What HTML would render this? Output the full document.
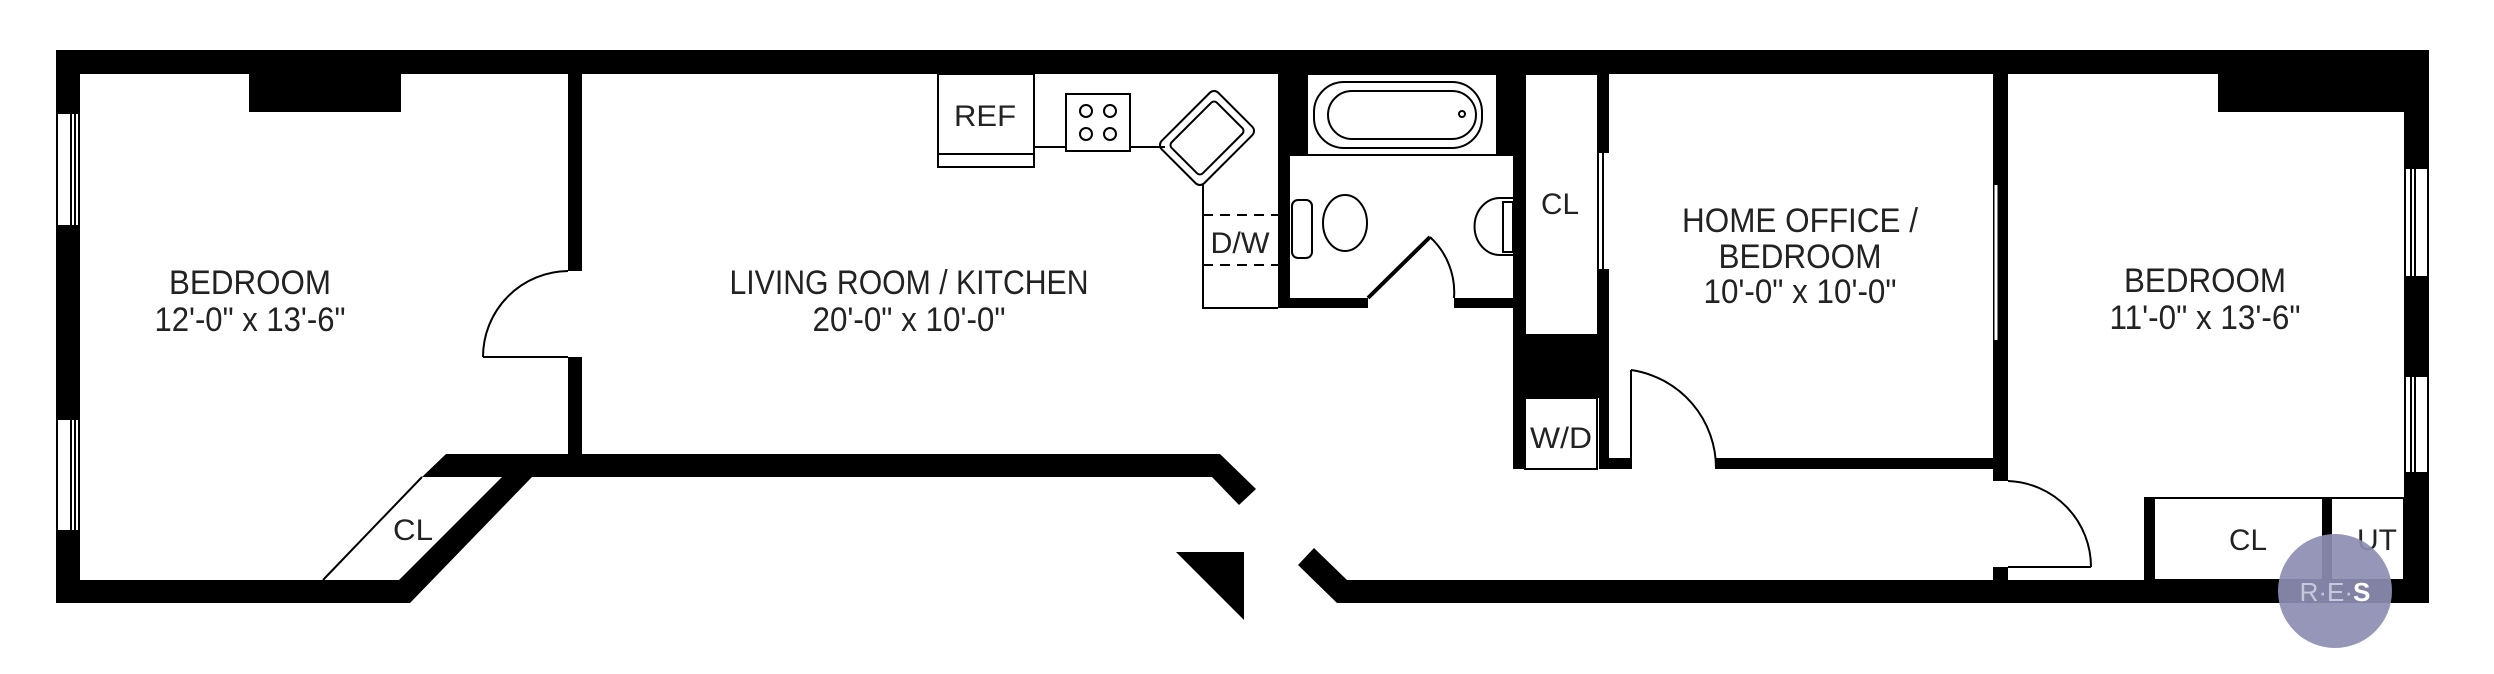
<!DOCTYPE html>
<html><head><meta charset="utf-8"><style>
html,body{margin:0;padding:0;background:#fff;}
svg{display:block}
text{font-family:"Liberation Sans",sans-serif;fill:#222;text-anchor:middle}
</style></head><body>
<svg width="2494" height="674" viewBox="0 0 2494 674" xmlns="http://www.w3.org/2000/svg">
<rect width="2494" height="674" fill="#fff"/>
<g fill="#000">
<rect x="56" y="50" width="2373" height="24"/>
<rect x="56" y="50" width="24" height="553"/>
<rect x="2404" y="50" width="25" height="553"/>
<polygon points="56,580 399,580 502,477 422,477 446,454 1220,454 1256,489 1239,505 1212,477 532,477 410,603 56,603"/>
<polygon points="1298,565 1314,548 1347,580 2429,580 2429,603 1337,603"/>
<polygon points="1176,552 1244,552 1244,620"/>
<rect x="249" y="73" width="152" height="39"/>
<rect x="2218" y="73" width="186" height="39"/>
<rect x="568" y="73" width="14" height="198"/>
<rect x="568" y="357" width="14" height="97"/>
<rect x="1278" y="73" width="12" height="235"/>
<rect x="1290" y="73" width="17" height="82"/>
<rect x="1497" y="73" width="28" height="82"/>
<rect x="1513" y="73" width="12" height="396"/>
<rect x="1278" y="298" width="90" height="10"/>
<rect x="1454" y="298" width="59" height="10"/>
<rect x="1598" y="73" width="11" height="80"/>
<rect x="1599" y="269" width="10" height="200"/>
<rect x="1515" y="335" width="84" height="63"/>
<rect x="1609" y="458" width="22" height="11"/>
<rect x="1716" y="458" width="277" height="11"/>
<rect x="1993" y="73" width="15" height="408"/>
<rect x="1993" y="567" width="15" height="13"/>
<rect x="2145" y="498" width="10" height="82"/>
<rect x="2322" y="498" width="10" height="82"/>
</g>
<g fill="none" stroke="#000" stroke-width="2">
<line x1="1996" y1="185" x2="1996" y2="340" stroke="#fff" stroke-width="3"/>
<rect x="2145" y="498" width="259" height="82"/>
<g fill="#fff">
<rect x="57" y="113" width="22" height="113"/>
<rect x="57" y="419" width="22" height="112"/>
<rect x="2405" y="168" width="23" height="109"/>
<rect x="2405" y="376" width="23" height="97"/>
</g>
<line x1="71" y1="113" x2="71" y2="226"/><line x1="75" y1="113" x2="75" y2="226"/>
<line x1="71" y1="419" x2="71" y2="531"/><line x1="75" y1="419" x2="75" y2="531"/>
<line x1="2411" y1="168" x2="2411" y2="277"/><line x1="2415" y1="168" x2="2415" y2="277"/>
<line x1="2411" y1="376" x2="2411" y2="473"/><line x1="2415" y1="376" x2="2415" y2="473"/>
<line x1="483" y1="357" x2="568" y2="357"/>
<path d="M568,271 A86,86 0 0 0 483,357"/>
<line x1="1631" y1="370" x2="1631" y2="469"/>
<path d="M1631,370 A99,99 0 0 1 1716,469"/>
<line x1="2008" y1="567" x2="2091" y2="567"/>
<path d="M2008,481 A86,86 0 0 1 2091,567"/>
<line x1="1368" y1="298" x2="1430" y2="237" stroke-width="4"/>
<path d="M1430,237 A75,75 0 0 1 1454,298"/>
<line x1="422" y1="477" x2="323" y2="580"/>
<rect x="938" y="74" width="96" height="93"/>
<line x1="938" y1="154" x2="1034" y2="154"/>
<rect x="1066" y="94" width="64" height="57"/>
<circle cx="1086" cy="111" r="6"/><circle cx="1110" cy="111" r="6"/>
<circle cx="1086" cy="134" r="6"/><circle cx="1110" cy="134" r="6"/>
<line x1="1034" y1="147" x2="1066" y2="147"/>
<line x1="1130" y1="147" x2="1165" y2="147"/>
<g transform="translate(1207,138) rotate(45)">
<rect x="-30" y="-40" width="60" height="80" rx="6"/>
<rect x="-22" y="-32" width="44" height="64" rx="4"/>
</g>
<polyline points="1203,185 1203,308 1278,308"/>
<line x1="1203" y1="215" x2="1278" y2="215" stroke-dasharray="10,7"/>
<line x1="1203" y1="265" x2="1278" y2="265" stroke-dasharray="10,7"/>
<line x1="1290" y1="155" x2="1513" y2="155"/>
<rect x="1307" y="74" width="190" height="81"/>
<rect x="1314" y="82" width="168" height="66" rx="30"/>
<rect x="1328" y="91" width="148" height="48" rx="24"/>
<circle cx="1462" cy="114" r="3"/>
<ellipse cx="1345" cy="223" rx="22" ry="28"/>
<rect x="1292" y="200" width="20" height="58" rx="6"/>
<path d="M1513,198 L1500,198 A25,28 0 0 0 1500,255 L1513,255"/>
<rect x="1503" y="202" width="10" height="50"/>
<rect x="1525" y="74" width="73" height="261"/>
<line x1="1603" y1="153" x2="1603" y2="269"/>
<rect x="1525" y="398" width="72" height="71"/>
</g>
<g font-size="34" lengthAdjust="spacingAndGlyphs">
<text x="250" y="294" textLength="162" lengthAdjust="spacingAndGlyphs">BEDROOM</text>
<text x="250" y="331" textLength="191" lengthAdjust="spacingAndGlyphs">12'-0" x 13'-6"</text>
<text x="909" y="294" textLength="359" lengthAdjust="spacingAndGlyphs">LIVING ROOM / KITCHEN</text>
<text x="909" y="331" textLength="193" lengthAdjust="spacingAndGlyphs">20'-0" x 10'-0"</text>
<text x="1800" y="232" textLength="236" lengthAdjust="spacingAndGlyphs">HOME OFFICE /</text>
<text x="1800" y="268" textLength="163" lengthAdjust="spacingAndGlyphs">BEDROOM</text>
<text x="1800" y="303" textLength="193" lengthAdjust="spacingAndGlyphs">10'-0" x 10'-0"</text>
<text x="2205" y="292" textLength="162" lengthAdjust="spacingAndGlyphs">BEDROOM</text>
<text x="2205" y="329" textLength="191" lengthAdjust="spacingAndGlyphs">11'-0" x 13'-6"</text>
</g>
<g font-size="30">
<text x="985" y="126" textLength="62" lengthAdjust="spacingAndGlyphs">REF</text>
<text x="1560" y="214" textLength="38" lengthAdjust="spacingAndGlyphs">CL</text>
<text x="1240" y="253" textLength="59" lengthAdjust="spacingAndGlyphs">D/W</text>
<text x="1561" y="448" textLength="62" lengthAdjust="spacingAndGlyphs">W/D</text>
<text x="413" y="540" textLength="40" lengthAdjust="spacingAndGlyphs">CL</text>
<text x="2248" y="550" textLength="38" lengthAdjust="spacingAndGlyphs">CL</text>
<text x="2377" y="550" textLength="40" lengthAdjust="spacingAndGlyphs">UT</text>
</g>
<circle cx="2335" cy="591" r="57" fill="#8d8db3" fill-opacity="0.92"/>
<text x="2335" y="601" font-size="26" style="fill:#c8c8dc">R·E·<tspan style="fill:#fff;font-weight:bold">S</tspan></text>
</svg>
</body></html>
